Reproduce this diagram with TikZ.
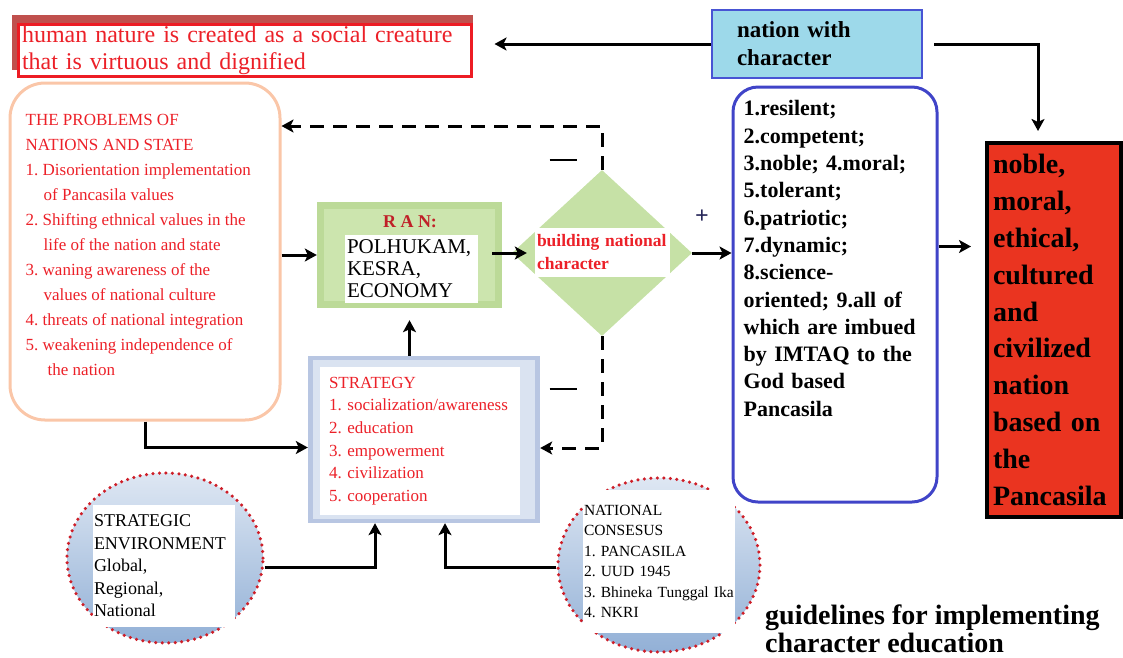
\documentclass[tikz,border=0pt]{standalone}
\usepackage{fontspec}
\setmainfont{Liberation Serif}
\usetikzlibrary{shapes.geometric, arrows.meta}

\definecolor{shadowred}{RGB}{192,80,77}
\definecolor{framered}{RGB}{237,28,36}
\definecolor{txtred}{RGB}{236,32,40}
\definecolor{titlered}{RGB}{192,32,40}
\definecolor{nationfill}{RGB}{157,217,234}
\definecolor{nationblue}{RGB}{72,84,212}
\definecolor{qualblue}{RGB}{64,68,200}
\definecolor{resred}{RGB}{234,52,32}
\definecolor{peach}{RGB}{250,198,168}
\definecolor{ranedge}{RGB}{188,218,152}
\definecolor{ranface}{RGB}{204,229,174}
\definecolor{diagreen}{RGB}{198,225,166}
\definecolor{stratedge}{RGB}{184,198,226}
\definecolor{stratface}{RGB}{218,227,241}
\definecolor{circtop}{RGB}{222,231,243}
\definecolor{circbot}{RGB}{146,176,214}
\definecolor{dotred}{RGB}{206,30,40}
\definecolor{plusnavy}{RGB}{40,40,90}

\frenchspacing

\begin{document}
\begin{tikzpicture}[x=1pt, y=-1pt, >={Stealth[length=12pt, width=13pt, inset=3pt]},
    every node/.style={inner sep=2pt, align=left},
    arr/.style={->, line width=3pt},
    fback/.style={->, line width=3pt, dash pattern=on 14pt off 9pt},
    circ/.style={ellipse, draw=dotred, line width=3.5pt, dash pattern=on 0pt off 6.5pt,
        line cap=round, top color=circtop, bottom color=circbot}]

    \useasboundingbox (0,0) rectangle (1123,657);

    % --- 1. top: nature of man and nation with character ---
    \fill[shadowred] (12,15) rectangle (473,70);
    \node[draw=framered, line width=3pt, fill=white, minimum width=453pt, minimum height=51pt,
        text width=445pt, text=txtred, font=\fontsize{24}{27}\selectfont] (nature) at (244.5,50.5)
        {human nature is created as a social creature\\that is virtuous and dignified};

    \node[draw=nationblue, line width=2.5pt, fill=nationfill, minimum width=210pt, minimum height=68pt,
        text width=160pt, font=\bfseries\fontsize{23}{28}\selectfont] (nation) at (817,44)
        {nation with\\character};

    % --- 2. left: problems of nations and state ---
    \node[draw=peach, line width=3pt, rounded corners=35pt, minimum width=270pt,
        minimum height=337pt] (probs) at (145,251.5) {};
    \node[anchor=north west, text=txtred, font=\fontsize{17}{25}\selectfont] (probtext)
        at ([shift={(15pt,-31pt)}]probs.north west)
        {THE PROBLEMS OF\\NATIONS AND STATE\\1. Disorientation implementation\\
         \hspace*{18pt}of Pancasila values\\2. Shifting ethnical values in the\\
         \hspace*{18pt}life of the nation and state\\3. waning awareness of the\\
         \hspace*{18pt}values of national culture\\4. threats of national integration\\
         5. weakening independence of\\\hspace*{22pt}the nation};

    % --- 3. RAN box and diamond ---
    \node[fill=ranedge, minimum width=185pt, minimum height=106pt] (ran) at (409.5,255) {};
    \fill[ranface] ([shift={(7pt,-7pt)}]ran.north west) rectangle ([shift={(-7pt,7pt)}]ran.south east);
    \node[text=titlered, font=\bfseries\fontsize{18}{20}\selectfont] (rantitle) at (410,222) {R A N:};
    \node[fill=white, minimum width=133pt, minimum height=68pt, text width=129pt,
        font=\fontsize{21}{22}\selectfont] (ranlist) at (411.5,269) {POLHUKAM,\\KESRA,\\ECONOMY};

    \node[diamond, fill=diagreen, minimum width=180pt, minimum height=166pt, inner sep=0pt]
        (build) at (602,253) {};
    \node[fill=white, text=txtred, minimum width=135pt, minimum height=49pt, text width=131pt,
        font=\bfseries\fontsize{17.5}{23}\selectfont] (buildtxt) at (602.5,252.5)
        {building national\\character};

    % --- 4. strategy ---
    \node[fill=stratedge, minimum width=232pt, minimum height=167pt] (strat) at (424,439.5) {};
    \fill[stratface] ([shift={(5pt,-4pt)}]strat.north west) rectangle ([shift={(-5pt,4pt)}]strat.south east);
    \node[fill=white, minimum width=200pt, minimum height=148pt, text width=182pt, inner xsep=9pt,
        text=txtred, font=\fontsize{17}{22.6}\selectfont] (stratlist) at (420,441)
        {STRATEGY\\1. socialization/awareness\\2. education\\3. empowerment\\4. civilization\\5. cooperation};

    % --- 5. right: qualities and result ---
    \node[draw=qualblue, line width=3pt, rounded corners=25pt, minimum width=204pt,
        minimum height=415pt] (qual) at (835,294.5) {};
    \node[anchor=north west, text width=190pt, font=\bfseries\fontsize{22}{27.3}\selectfont] (qualtext)
        at ([shift={(10pt,-13pt)}]qual.north west)
        {1.resilent;\\2.competent;\\3.noble; 4.moral;\\5.tolerant;\\6.patriotic;\\7.dynamic;\\
         8.science-\\oriented; 9.all of\\which are imbued\\by IMTAQ to the\\God based\\Pancasila};

    \node[draw=black, line width=4pt, fill=resred, minimum width=134pt, minimum height=374pt,
        text width=122pt, font=\bfseries\fontsize{28}{36.8}\selectfont] (result) at (1054,330)
        {noble,\\moral,\\ethical,\\cultured\\and\\civilized\\nation\\based on\\the\\Pancasila};

    % --- 6. circles ---
    \node[circ, minimum width=196pt, minimum height=170pt] (env) at (165,558) {};
    \node[fill=white, minimum width=142pt, minimum height=122pt, text width=140pt, inner xsep=1pt,
        font=\fontsize{18}{22.5}\selectfont] (envtxt) at (164,566)
        {STRATEGIC\\ENVIRONMENT\\Global,\\Regional,\\National};

    \node[circ, minimum width=202pt, minimum height=174pt] (cons) at (659,565) {};
    \node[fill=white, minimum width=152pt, minimum height=143pt, text width=150pt, inner xsep=1pt,
        font=\fontsize{15.5}{20.5}\selectfont] (constxt) at (659,561.5)
        {NATIONAL\\CONSESUS\\1. PANCASILA\\2. UUD 1945\\3. Bhineka Tunggal Ika\\4. NKRI};

    \node[anchor=west, font=\bfseries\fontsize{28}{28.5}\selectfont] (guide) at (763,629)
        {guidelines for implementing\\character education};

    % --- 7. connectors ---
    \draw[arr, shorten >=22pt] (nation.west) -- (nation.west -| nature.east);
    \coordinate (bend) at (1038,44);
    \draw[arr, shorten <=11pt, shorten >=10pt] (nation.east) -- (bend) -- (bend |- result.north);

    \draw[arr] (ran.west -| probs.east) -- (ran.west);
    \draw[arr, shorten <=-10pt, shorten >=-15pt] (build.west -| ran.east) -- (build.west);
    \draw[arr] (build.east) -- (build.east -| qual.west);
    \node[text=plusnavy, font=\bfseries\fontsize{24}{24}\selectfont] (plus) at (702,217) {+};
    \draw[arr, line width=2.5pt, shorten >=14pt] ([yshift=48pt]qual.east) -- ([yshift=48pt]qual.east -| result.west);

    \draw[arr, shorten >=12pt] (ran.south |- strat.north) -- (ran.south);
    \draw[arr] (probs.south) |- ([yshift=-8pt]strat.west);
    \draw[arr] ([yshift=-9pt]env.east) -| ([xshift=-49pt]strat.south);
    \draw[arr] ([yshift=-2pt]cons.west) -| ([xshift=21pt]strat.south);

    % feedback (dashed)
    \coordinate (fbtop) at (build.north |- 0,126);
    \draw[fback] (build.north) -- (fbtop) -- (fbtop -| probs.east);
    \node (minusA) at (563,160) {\rule{27pt}{2.5pt}};
    \coordinate (fbbot) at (build.south |- 0,448);
    \draw[fback] (build.south) -- (fbbot) -- (fbbot -| strat.east);
    \node (minusB) at (563,389) {\rule{27pt}{2.5pt}};

\end{tikzpicture}
\end{document}
